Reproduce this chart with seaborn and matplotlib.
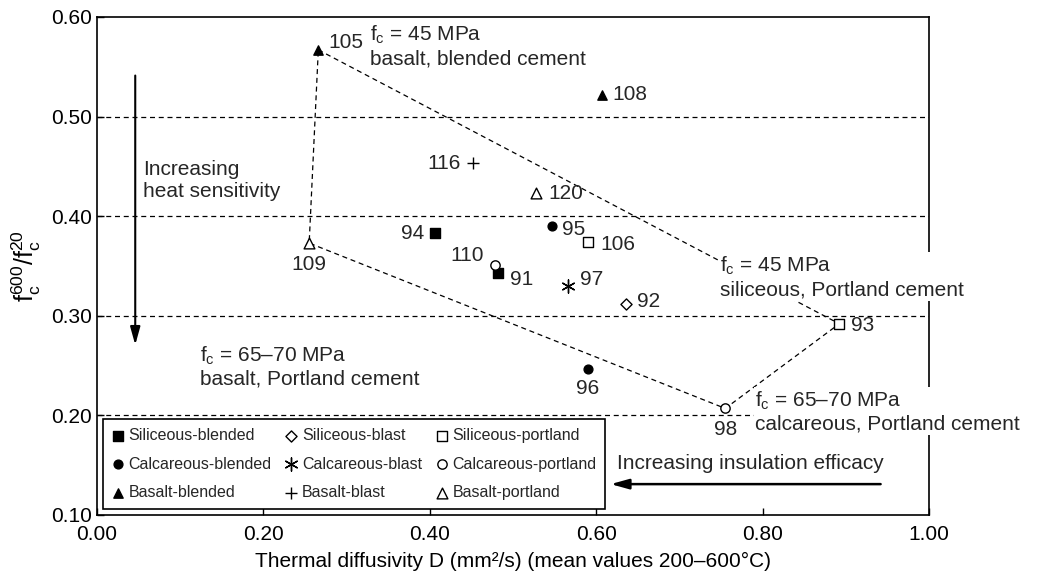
import pandas as pd
import matplotlib
matplotlib.use("Agg")
import matplotlib.pyplot as plt
import seaborn as sns

# ===============================
# STYLE
# ===============================
sns.set_theme(style="white")
plt.rcParams["font.family"] = ["Liberation Sans", "DejaVu Sans"]
plt.rcParams["mathtext.fontset"] = "custom"
plt.rcParams["mathtext.rm"] = "Liberation Sans"
plt.rcParams["mathtext.it"] = "Liberation Sans"
plt.rcParams["mathtext.bf"] = "Liberation Sans:bold"

# ===============================
# DATA
# ===============================
ids = ["94", "91", "92", "106", "93", "95", "96", "97", "110", "98",
       "105", "108", "116", "109", "120"]
diffusivity = [0.406, 0.482, 0.636, 0.590, 0.892, 0.547, 0.590, 0.566,
               0.478, 0.755, 0.266, 0.607, 0.452, 0.255, 0.528]
ratio = [0.383, 0.343, 0.312, 0.374, 0.292, 0.390, 0.247, 0.330,
         0.351, 0.207, 0.567, 0.522, 0.453, 0.373, 0.423]
groups = ["Siliceous-blended", "Siliceous-blended", "Siliceous-blast",
          "Siliceous-portland", "Siliceous-portland",
          "Calcareous-blended", "Calcareous-blended", "Calcareous-blast",
          "Calcareous-portland", "Calcareous-portland",
          "Basalt-blended", "Basalt-blended", "Basalt-blast",
          "Basalt-portland", "Basalt-portland"]

# legend order (column-wise for 3 columns)
group_order = ["Siliceous-blended", "Calcareous-blended", "Basalt-blended",
               "Siliceous-blast", "Calcareous-blast", "Basalt-blast",
               "Siliceous-portland", "Calcareous-portland", "Basalt-portland"]

# envelope polygon through specimens
envelope = ["105", "93", "98", "109", "105"]

df = pd.DataFrame({"id": ids, "D": diffusivity, "ratio": ratio, "group": groups})

# marker, filled?, size
marker_style = {
    "Siliceous-blended": ("s", True, 45),
    "Calcareous-blended": ("o", True, 40),
    "Basalt-blended": ("^", True, 45),
    "Siliceous-blast": ("D", False, 32),
    "Calcareous-blast": ((6, 2, 0), False, 90),
    "Basalt-blast": ("+", False, 80),
    "Siliceous-portland": ("s", False, 45),
    "Calcareous-portland": ("o", False, 45),
    "Basalt-portland": ("^", False, 60),
}

# label offsets in pixels (dx, dy, ha)
label_offset = {
    "94": (-11, 0, "right"), "91": (12, -7, "left"), "92": (11, 2, "left"),
    "106": (12, -2, "left"), "93": (12, -2, "left"), "95": (10, -3, "left"),
    "96": (0, -20, "center"), "97": (12, 6, "left"), "110": (-11, 9, "right"),
    "98": (0, -21, "center"), "105": (10, 7, "left"), "108": (10, 0, "left"),
    "116": (-12, 0, "right"), "109": (0, -21, "center"), "120": (12, 0, "left"),
}

# ===============================
# PLOT
# ===============================
fig, ax = plt.subplots(figsize=(10.37, 5.78), dpi=100)
fig.subplots_adjust(left=0.0935, right=0.896, top=0.9706, bottom=0.109)

for y in [0.2, 0.3, 0.4, 0.5]:
    ax.axhline(y, color="black", lw=0.9, ls=(0, (4, 3)), zorder=1)

env = df.set_index("id").loc[envelope]
ax.plot(env["D"], env["ratio"], color="black", lw=0.9, ls=(0, (4, 3)), zorder=1)

for g in group_order:
    m, filled, s = marker_style[g]
    sub = df[df["group"] == g]
    if m in ["+", (6, 2, 0)]:
        sns.scatterplot(data=sub, x="D", y="ratio", ax=ax, marker=m, s=s,
                        color="black", linewidth=1.0, label=g, zorder=3)
    else:
        sns.scatterplot(data=sub, x="D", y="ratio", ax=ax, marker=m, s=s,
                        facecolor="black" if filled else "white",
                        edgecolor="black", linewidth=1.0, label=g, zorder=3)

for _, r in df.iterrows():
    dx, dy, ha = label_offset[r["id"]]
    ax.annotate(r["id"], (r["D"], r["ratio"]), xytext=(dx, dy),
                textcoords="offset pixels", ha=ha, va="center", fontsize=15,
                zorder=4)

# annotations
box = dict(facecolor="white", edgecolor="none", pad=1)
ax.text(0.328, 0.571, "$\\mathregular{f_c}$ = 45 MPa\nbasalt, blended cement",
        fontsize=15, va="center", ha="left", linespacing=1.2)
ax.text(0.749, 0.339, "$\\mathregular{f_c}$ = 45 MPa\nsiliceous, Portland cement",
        fontsize=15, va="center", ha="left", linespacing=1.2, bbox=box,
        zorder=5, clip_on=False)
ax.text(0.124, 0.249, "$\\mathregular{f_c}$ = 65–70 MPa\nbasalt, Portland cement",
        fontsize=15, va="center", ha="left", linespacing=1.2)
ax.text(0.791, 0.204, "$\\mathregular{f_c}$ = 65–70 MPa\ncalcareous, Portland cement",
        fontsize=15, va="center", ha="left", linespacing=1.2, bbox=box,
        zorder=5, clip_on=False)

ax.text(0.055, 0.436, "Increasing\nheat sensitivity", fontsize=15,
        va="center", ha="left", linespacing=1.2)
ax.annotate("", xy=(0.046, 0.268), xytext=(0.046, 0.544),
            arrowprops=dict(arrowstyle="-|>,head_length=0.9,head_width=0.25",
                            color="black", lw=1.5))

ax.text(0.625, 0.152, "Increasing insulation efficacy", fontsize=15,
        va="center", ha="left")
ax.annotate("", xy=(0.614, 0.131), xytext=(0.945, 0.131),
            arrowprops=dict(arrowstyle="-|>,head_length=0.9,head_width=0.25",
                            color="black", lw=1.8))

# axes
ax.set_xlim(0, 1.0)
ax.set_ylim(0.1, 0.6)
ax.set_xticks([0, 0.2, 0.4, 0.6, 0.8, 1.0])
ax.set_yticks([0.1, 0.2, 0.3, 0.4, 0.5, 0.6])
ax.set_xticklabels([f"{v:.2f}" for v in [0, 0.2, 0.4, 0.6, 0.8, 1.0]])
ax.set_yticklabels([f"{v:.2f}" for v in [0.1, 0.2, 0.3, 0.4, 0.5, 0.6]])
ax.tick_params(direction="in", length=5, width=1, labelsize=15, colors="black",
               bottom=True, left=True)
ax.tick_params(axis="x", pad=7)
for sp in ax.spines.values():
    sp.set_color("black")
    sp.set_linewidth(1.2)

ax.set_xlabel("Thermal diffusivity D (mm²/s) (mean values 200–600°C)",
              fontsize=15, color="black", labelpad=6)
ax.set_ylabel("$\\mathregular{f_c^{600}/f_c^{20}}$", fontsize=18,
              color="black", labelpad=6)

leg = ax.legend(ncol=3, loc="lower left", bbox_to_anchor=(0.007, 0.012),
                borderaxespad=0, fontsize=11.5, frameon=True, fancybox=False,
                framealpha=1, edgecolor="black", handletextpad=0.25,
                columnspacing=0.85, borderpad=0.55, labelspacing=0.85,
                handlelength=0.8)
leg.get_frame().set_linewidth(1.2)
leg.set_zorder(6)

fig.savefig("out.png", dpi=100, facecolor="white")
